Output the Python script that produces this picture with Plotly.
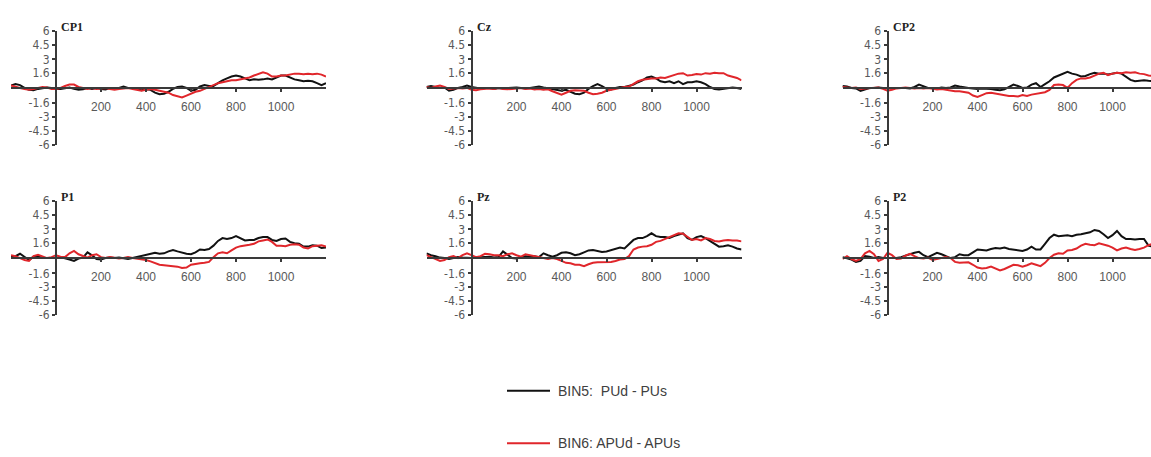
import plotly.graph_objects as go

W, H = 1151, 457

time_ms = list(range(-200, 1201, 20))

panel_names = ["CP1", "Cz", "CP2", "P1", "Pz", "P2"]

cp1_bin5 = [0.25,0.4,0.3,0.0,-0.2,-0.25,-0.1,0.0,0.05,0.0,
            -0.1,-0.1,0.0,0.05,-0.1,-0.2,-0.15,0.0,-0.1,0.0,
            -0.1,-0.15,0.0,-0.05,0.0,0.15,0.0,0.0,-0.1,-0.25,
            -0.15,-0.2,-0.5,-0.65,-0.6,-0.4,-0.1,0.1,0.15,0.0,
            -0.3,-0.2,0.15,0.3,0.2,0.2,0.5,0.8,1.0,1.2,
            1.3,1.2,1.0,0.8,0.9,0.85,0.9,1.0,0.9,1.1,
            1.3,1.3,1.1,0.9,0.8,0.7,0.75,0.7,0.5,0.3,
            0.5]
cp1_bin6 = [0.25,0.1,0.0,-0.1,-0.2,-0.1,0.0,0.1,0.05,-0.1,
            -0.1,0.0,0.2,0.35,0.35,0.1,0.0,-0.1,0.0,-0.1,
            -0.05,0.0,-0.1,-0.2,-0.1,-0.05,0.0,-0.1,-0.2,-0.3,
            -0.2,-0.1,-0.2,-0.3,-0.35,-0.5,-0.75,-0.9,-1.0,-0.8,
            -0.6,-0.4,-0.3,-0.1,0.1,0.3,0.5,0.6,0.7,0.8,
            0.8,0.9,1.0,1.1,1.3,1.5,1.65,1.5,1.2,1.2,
            1.3,1.3,1.4,1.5,1.5,1.45,1.5,1.45,1.5,1.4,
            1.2]
cz_bin5 = [0.1,0.2,0.1,0.0,0.05,-0.3,-0.2,0.0,0.1,0.25,
           0.1,0.0,-0.05,0.0,0.0,-0.1,0.0,-0.05,0.0,0.0,
           0.05,0.0,-0.05,0.0,0.05,0.15,0.05,-0.05,-0.1,-0.2,
           -0.3,-0.2,-0.4,-0.6,-0.65,-0.5,-0.1,0.2,0.4,0.2,
           -0.1,-0.15,0.0,0.1,0.1,0.2,0.35,0.6,0.8,1.1,
           1.2,1.0,0.7,0.6,0.7,0.5,0.7,0.4,0.6,0.6,
           0.7,0.6,0.4,0.1,-0.1,-0.15,-0.1,0.0,0.05,0.0,
           -0.1]
cz_bin6 = [0.1,0.0,0.15,0.25,0.1,-0.1,-0.05,0.0,-0.05,0.0,
           -0.2,-0.25,-0.15,-0.1,-0.05,-0.1,0.0,-0.1,-0.15,-0.1,
           -0.05,0.0,-0.1,-0.05,-0.15,-0.1,-0.2,-0.15,-0.35,-0.55,
           -0.7,-0.5,-0.3,-0.25,-0.25,-0.3,-0.5,-0.65,-0.6,-0.5,
           -0.3,-0.2,-0.1,0.05,0.1,0.15,0.4,0.7,0.85,0.95,
           1.0,1.0,1.1,1.05,1.2,1.4,1.5,1.55,1.3,1.35,
           1.45,1.4,1.55,1.5,1.6,1.55,1.55,1.3,1.2,1.05,
           0.8]
cp2_bin5 = [0.2,0.15,0.0,-0.05,-0.3,-0.15,0.0,0.0,0.05,0.0,
            -0.05,0.0,0.0,0.05,0.0,-0.05,0.1,0.35,0.2,0.0,
            0.0,-0.05,0.05,0.0,0.05,0.25,0.15,0.05,0.0,-0.05,
            -0.1,-0.05,-0.05,-0.1,-0.2,-0.25,-0.15,0.1,0.35,0.2,
            0.0,0.05,0.35,0.5,0.1,0.4,0.7,1.1,1.3,1.55,
            1.7,1.5,1.4,1.2,1.25,1.45,1.6,1.5,1.5,1.4,
            1.5,1.6,1.5,1.2,0.85,0.7,0.75,0.8,0.75,0.7,
            0.7]
cp2_bin6 = [0.1,0.05,0.0,0.05,-0.1,-0.05,0.0,0.0,0.05,-0.1,
            -0.3,-0.2,-0.05,0.0,0.05,0.0,-0.05,0.0,-0.05,0.0,
            -0.1,-0.15,-0.1,-0.2,-0.3,-0.35,-0.35,-0.4,-0.5,-0.8,
            -0.95,-0.75,-0.55,-0.5,-0.6,-0.65,-0.75,-0.85,-0.85,-0.9,
            -0.75,-0.85,-0.7,-0.6,-0.5,-0.45,-0.2,0.3,0.35,0.3,
            0.0,0.5,0.85,1.0,1.0,1.1,1.3,1.5,1.6,1.35,
            1.5,1.6,1.55,1.65,1.6,1.65,1.5,1.45,1.3,1.3,
            1.25]
p1_bin5 = [0.2,0.2,0.45,0.1,-0.2,0.15,0.2,0.0,0.0,-0.05,
           0.0,0.1,0.0,-0.15,-0.3,-0.05,0.05,0.6,0.3,-0.1,
           -0.15,0.0,0.05,0.0,0.05,-0.05,-0.1,0.0,0.1,0.2,
           0.3,0.45,0.55,0.45,0.5,0.7,0.85,0.7,0.55,0.45,
           0.4,0.6,0.9,0.85,0.95,1.3,1.8,2.1,2.0,2.1,
           2.3,2.1,1.85,1.9,1.9,2.1,2.2,2.2,1.9,1.8,
           2.0,2.05,1.7,1.55,1.5,1.2,1.2,1.35,1.3,1.05,
           1.1]
p1_bin6 = [0.3,0.2,0.0,-0.2,-0.3,0.2,0.35,0.2,0.0,0.1,
           0.3,0.15,0.1,0.5,0.75,0.4,0.2,0.05,0.3,0.4,
           0.1,0.0,0.1,0.0,-0.05,0.0,0.1,0.0,-0.05,-0.1,
           -0.2,-0.35,-0.55,-0.7,-0.75,-0.8,-0.85,-0.9,-1.05,-1.0,
           -0.7,-0.6,-0.55,-0.5,-0.4,0.1,0.5,0.6,0.5,0.8,
           1.1,1.25,1.3,1.4,1.5,1.75,1.85,1.95,1.7,1.3,
           1.3,1.25,1.4,1.45,1.4,1.1,1.0,1.25,1.3,1.35,
           1.2]
pz_bin5 = [0.5,0.3,0.2,0.05,0.0,-0.1,0.0,0.1,0.05,0.0,
           0.0,0.05,0.1,0.1,0.15,0.05,0.1,0.7,0.3,0.0,
           -0.05,0.1,0.2,0.15,0.2,0.1,0.5,0.3,0.15,0.3,
           0.55,0.6,0.5,0.3,0.4,0.6,0.8,0.85,0.75,0.65,
           0.7,0.85,1.0,1.1,1.0,1.4,1.9,2.1,2.1,2.3,
           2.6,2.3,2.2,2.2,2.1,2.3,2.45,2.6,2.1,1.9,
           2.2,2.3,2.1,1.8,1.5,1.2,1.25,1.35,1.2,1.0,
           0.9]
pz_bin6 = [0.3,0.1,-0.1,-0.3,-0.2,0.1,0.2,0.0,0.3,0.5,
           0.3,0.1,0.2,0.45,0.4,0.3,0.3,0.2,0.4,0.5,
           0.3,0.15,0.4,0.3,0.2,0.1,-0.05,-0.1,0.0,-0.1,
           -0.3,-0.5,-0.55,-0.7,-0.7,-0.85,-0.65,-0.5,-0.45,-0.45,
           -0.4,-0.4,-0.3,-0.15,-0.1,0.2,0.9,1.1,1.2,1.25,
           1.4,1.7,1.8,2.0,2.2,2.4,2.6,2.55,2.2,1.9,
           2.0,1.85,2.1,2.0,1.8,1.75,1.85,1.9,1.85,1.85,
           1.75]
p2_bin5 = [0.1,0.0,-0.15,-0.4,-0.3,0.2,0.15,0.0,0.1,0.0,
           0.0,0.05,0.0,0.1,0.25,0.45,0.55,0.65,0.3,0.1,
           0.3,0.55,0.4,0.2,0.0,0.1,0.4,0.3,0.3,0.6,
           0.9,0.85,0.8,0.95,1.05,1.0,1.1,0.95,0.9,0.8,
           0.75,0.9,1.2,0.9,0.9,1.5,2.1,2.45,2.3,2.35,
           2.4,2.3,2.45,2.5,2.6,2.7,2.95,2.85,2.5,2.1,
           2.4,2.85,2.3,2.0,2.0,1.95,2.0,2.0,1.3,1.2,
           1.2]
p2_bin6 = [-0.1,0.2,-0.1,-0.3,-0.1,0.5,0.75,0.4,-0.3,-0.1,
           0.55,0.3,-0.1,-0.05,0.25,0.45,0.2,0.0,-0.05,0.05,
           -0.2,-0.1,0.0,0.1,0.0,-0.4,-0.5,-0.5,-0.45,-0.7,
           -1.0,-1.1,-1.05,-0.9,-1.1,-1.3,-1.15,-0.9,-0.7,-0.75,
           -0.9,-0.75,-0.55,-0.7,-0.85,-0.5,0.0,0.35,0.5,0.45,
           0.8,0.85,1.0,1.3,1.5,1.4,1.35,1.55,1.45,1.3,
           1.1,0.8,1.0,1.1,0.95,0.85,0.95,1.1,1.35,1.5,
           1.5]

bin5_series = [cp1_bin5, cz_bin5, cp2_bin5, p1_bin5, pz_bin5, p2_bin5]
bin6_series = [cp1_bin6, cz_bin6, cp2_bin6, p1_bin6, pz_bin6, p2_bin6]

series_names = ["BIN5:  PUd - PUs", "BIN6: APUd - APUs"]

y_tickvals = [-6, -4.5, -3, -1.6, 1.6, 3, 4.5, 6]
y_ticktext = ["-6", "-4.5", "-3", "-1.6", "1.6", "3", "4.5", "6"]
x_tickvals = [200, 400, 600, 800, 1000]

# layout geometry (pixels)
px_per_ms = 0.225
x_zero_px = [56, 471.5, 887.5]
row_top_bottom = [(24.5, 142.5), (200, 318)]
legend_rows_px = [396, 450]
legend_line_px = (507, 550)
legend_text_px = 556

BLACK = "#111111"
RED = "#E0262B"
series_colors = [BLACK, RED]
AXIS = "#3a3a3a"
XTICKFONT = dict(family="Liberation Sans, Arial, sans-serif", size=12, color="#595959")
YTICKFONT = dict(family="Liberation Sans Narrow, Arial Narrow, DejaVu Sans Condensed, Liberation Sans, sans-serif",
                 size=12, color="#595959")

fig = go.Figure()
layout = {}
annotations = []
shapes = []

for i in range(6):
    r, c = divmod(i, 3)
    sx = "" if i == 0 else str(i + 1)
    ox = str(i + 7)
    x0 = x_zero_px[c]
    left_px = x0 - 200 * px_per_ms
    right_px = min(x0 + 1200 * px_per_ms, W)
    xmax = (right_px - x0) / px_per_ms
    top, bot = row_top_bottom[r]
    ydom = [1 - bot / H, 1 - top / H]
    xdom = [left_px / W, right_px / W]
    xpos = (ydom[0] + ydom[1]) / 2
    ypos = x0 / W

    for k, vals in enumerate([bin5_series[i], bin6_series[i]]):
        fig.add_trace(go.Scatter(x=time_ms, y=vals, mode="lines",
                                 line=dict(color=series_colors[k], width=2),
                                 name=series_names[k], legendgroup="b%d" % k,
                                 showlegend=False,
                                 xaxis="x" + sx, yaxis="y" + sx))

    layout["xaxis" + sx] = dict(
        domain=xdom, range=[-200, xmax], anchor="free", position=xpos,
        showline=True, linecolor=AXIS, linewidth=2,
        showgrid=False, zeroline=False,
        tickvals=x_tickvals, ticks="outside", ticklen=3, tickcolor=AXIS,
        tickwidth=1.5, tickfont=XTICKFONT, ticklabelstandoff=5,
    )
    layout["yaxis" + sx] = dict(
        domain=ydom, range=[-6, 6], anchor="free", position=ypos,
        showline=True, linecolor=AXIS, linewidth=2,
        showgrid=False, zeroline=False,
        tickvals=y_tickvals, ticktext=y_ticktext,
        ticks="outside", ticklen=3, tickcolor=AXIS, tickwidth=1.5,
        tickfont=YTICKFONT,
    )
    # companion axes giving tick marks on the other side (cross ticks)
    layout["xaxis" + ox] = dict(
        overlaying="x" + sx, range=[-200, xmax], anchor="free", position=xpos,
        showline=False, showgrid=False, zeroline=False, showticklabels=False,
        tickvals=x_tickvals, ticks="inside", ticklen=4, tickcolor=AXIS, tickwidth=1.5,
    )
    layout["yaxis" + ox] = dict(
        overlaying="y" + sx, range=[-6, 6], anchor="free", position=ypos,
        showline=False, showgrid=False, zeroline=False, showticklabels=False,
        tickvals=y_tickvals, ticks="inside", ticklen=3, tickcolor=AXIS, tickwidth=1.5,
    )
    annotations.append(dict(
        text="<b>%s</b>" % panel_names[i], xref="paper", yref="paper",
        x=(x0 + 3) / W, y=1 - (top - 4) / H, xanchor="left", yanchor="middle",
        showarrow=False,
        font=dict(family="Liberation Serif, Times New Roman, serif", size=12, color="#222222"),
    ))

# legend key, drawn below the panels
for k in range(2):
    yk = 1 - legend_rows_px[k] / H
    shapes.append(dict(type="line", xref="paper", yref="paper",
                       x0=legend_line_px[0] / W, x1=legend_line_px[1] / W, y0=yk, y1=yk,
                       line=dict(color=series_colors[k], width=2)))
    annotations.append(dict(
        text=series_names[k], xref="paper", yref="paper",
        x=legend_text_px / W, y=yk, xanchor="left", yanchor="middle", showarrow=False,
        font=dict(family="Liberation Sans, Arial, sans-serif", size=14, color="#404040"),
    ))

fig.update_layout(
    width=W, height=H,
    margin=dict(l=0, r=0, t=0, b=0),
    paper_bgcolor="white", plot_bgcolor="rgba(0,0,0,0)",
    showlegend=False,
    annotations=annotations,
    shapes=shapes,
    **layout,
)

fig.write_html("out.html")
